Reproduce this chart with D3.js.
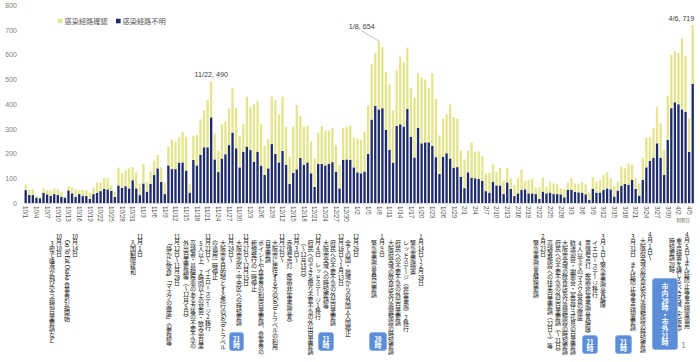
<!DOCTYPE html>
<html><head><meta charset="utf-8">
<script src="https://cdn.jsdelivr.net/npm/d3@7"></script>
<style>
body{margin:0;background:#fff;}
#wrap{position:relative;width:700px;height:362px;overflow:hidden;font-family:"Noto Sans CJK JP","Noto Sans",sans-serif;}
svg{position:absolute;left:0;top:0;}
.col{position:absolute;writing-mode:vertical-rl;font-size:6px;letter-spacing:-0.3px;line-height:7px;width:7px;white-space:nowrap;color:#1a1a1a;}
.tcy{text-combine-upright:all;}
.btn{position:absolute;background:#5b8ed6;border:1px solid #8fb3e6;border-radius:3px;color:#fff;font-weight:bold;writing-mode:vertical-rl;text-align:center;font-size:7px;box-sizing:border-box;white-space:nowrap;overflow:hidden;}
</style></head>
<body>
<div id="wrap"></div>
<script>
// ---- data ----
const yTicks = [0,100,200,300,400,500,600,700,800];
const seriesNames = ["感染経路確認","感染経路不明"];
// 感染経路不明 (navy)
const unknown = [
52,32,32,22,19,41,35,29,36,32,25,22,51,39,25,36,28,28,17,36,41,48,57,55,49,25,71,61,68,59,92,
59,32,79,46,77,113,140,86,36,152,137,137,163,164,131,42,174,152,195,225,225,346,176,125,180,197,234,
284,221,144,207,228,214,167,207,151,113,140,238,198,164,210,154,77,122,136,182,155,164,120,65,158,158,152,158,165,127,59,174,176,174,144,124,120,127,198,337,392,378,383,
295,215,163,311,318,309,380,268,184,304,241,245,245,231,185,117,186,201,180,143,145,106,60,124,102,
100,97,90,48,42,86,71,71,36,83,57,28,39,53,55,39,39,36,16,46,39,42,36,36,35,23,53,53,45,43,42,
35,12,57,42,42,53,59,55,26,50,70,77,73,93,57,30,93,144,170,183,241,183,113,255,383,407,399,378,369,207,481
];
// 感染経路確認 (yellow)
const confirmed = [
23,23,23,8,6,18,17,21,23,23,20,4,17,24,30,16,24,24,24,27,42,35,44,44,23,20,72,60,64,80,53,
64,45,79,40,50,58,54,58,46,76,120,111,102,124,137,35,97,123,143,148,191,144,105,86,139,132,148,
179,162,127,112,202,173,232,206,168,117,117,192,218,194,220,154,110,186,260,170,153,148,128,115,126,153,140,134,137,107,95,129,132,138,120,137,135,161,194,223,215,276,247,
236,264,211,225,274,260,248,195,240,220,265,254,221,293,235,156,156,158,218,204,195,106,116,88,143,
107,111,100,72,80,71,56,71,54,60,43,45,61,81,35,54,57,27,47,57,27,44,43,39,24,34,30,47,35,34,42,
40,31,47,44,51,60,64,45,43,36,77,63,85,61,43,49,90,120,95,119,146,139,101,177,216,207,208,287,225,135,238
];
const dates = d3.timeDay.range(new Date(2020,9,1), new Date(2021,3,7)).map(d => `${d.getMonth()+1}/${d.getDate()}`);
const peakLabels = [{date:"11/22"},{date:"1/8"},{date:"4/6"}];

// annotation columns (vertical Japanese text)
const notes = [
[75,233,"10月14日"],[67,240,"Go To Eat Osaka 食事券引換開始"],[59,233,"10月10日"],[52,240,"3密で唾液が飛び交う環境自粛要請など"],
[140,233,"11月1日"],[133,240,"入国制限緩和"],
[177,233,"11月12日～11月28日"],[169,240,"「静かに飲食」「マスクの徹底」の要請等"],
[208,233,"11月21日～　イエローステージ2移行"],[201,240,"5人以上、2時間以上の宴会・飲み会自粛"],[193,240,"高齢者・基礎疾患のある方等の不要不急の"],[186,240,"外出自粛要請等（～12月5日）"],
[231,233,"11月24日～"],[223,240,"大阪市を目的地とする旅行のGoToトラベル"],[215,240,"の適用一時停止"],
[246,233,"11月27日～12月15日"],[239,240,"大阪市北区・中央区への時短要請"],
[282,233,"11月27日～"],[275,240,"大阪市に居住する方のGoToトラベルの利用"],[268,240,"自粛要請"],[261,240,"ポイントや食事券の利用自粛要請、食事券の"],[254,240,"新規発行の一時停止"],
[296.5,233,"12月3日～"],[289.5,240,"赤信号点灯（医療非常事態宣言）"],
[318,233,"12月4日　レッドステージ1移行"],[310.5,240,"府民へのできる限り不要不急の外出自粛要請"],[303.5,240,"（～12月15日）"],
[341,233,"12月16日～1月13日"],[333,240,"府民への不要不急の外出自粛要請"],[326,240,"大阪市全域への時短要請等"],
[356,233,"12月26日"],[348,240,"全ての国・地域からの外国人入国停止"],
[382,233,"1月9日"],[374,240,"緊急事態宣言発出要請"],
[421,233,"1月14日～2月28日"],[413,240,"緊急事態措置"],[406,240,"レッドステージ（非常事態）2移行"],[398,240,"府民への不要不急の外出自粛要請"],[391,240,"大阪府全域の飲食店及び遊興施設の時短要請"],
[543,233,"2月23日"],[536,240,"緊急事態宣言解除要請"],
[603,233,"3月1日～緊急事態宣言解除"],[595,240,"イエローステージ移行"],[588,240,"黄信号点灯（医療非常事態宣言解除）"],[580,240,"4人以下でのマスク会食の徹底"],[573,240,"歓送迎会・謝恩会・宴会伴う花見の自粛要請"],[565,240,"大阪市全域の飲食店及び遊興施設の時短要請"],[558,240,"府民への不要不急の外出自粛要請（～21日）"],[550,240,"高齢者施設への往来自粛要請（22日～）等"],
[633,233,"3月31日　まん延防止等重点措置要請"],
[650,231,"4月1日～"],[643,238,"大阪府全域の飲食店及び遊興施設の時短要請"],
[687,231,"4月5日～まん延防止等重点措置適用"],[679,238,"重点措置を講じるべき区域（大阪市）"],[672,238,"時短要請20時"]
];
const buttons = [
[236,332,15,19,"21時"],[326,332,16,19,"21時"],[378,332,18,19,"20時"],
[590,335,16,19,"21時"],[623,335,17,19,"21時"],[665,278,26,72,"市内20時・市外21時"]
];

// ---- chart ----
const W=700,H=362;
const wrap = d3.select("#wrap");
const svg = wrap.append("svg").attr("width",W).attr("height",H);
const rows = dates.map((d,i)=>({date:d, unknown:unknown[i], confirmed:confirmed[i]}));
const x = d3.scaleBand().domain(dates).range([23.9,694.5]).paddingInner(0.35).paddingOuter(0.175);
const y = d3.scaleLinear().domain([0,800]).range([203,5]);
const colors = {unknown:"#1f2c6c", confirmed:"#e5e58e"};
const stack = d3.stack().keys(["unknown","confirmed"])(rows);

svg.append("g").selectAll("g").data(stack).join("g")
  .attr("fill", s => colors[s.key])
  .selectAll("rect").data(s => s).join("rect")
  .attr("x", d => x(d.data.date)).attr("width", x.bandwidth())
  .attr("y", d => y(d[1])).attr("height", d => y(d[0]) - y(d[1]));

// y axis
const ya = svg.append("g").attr("transform","translate(18,0)")
  .call(d3.axisLeft(y).tickValues(yTicks).tickSize(0).tickPadding(1));
ya.select(".domain").remove();
ya.selectAll("text").attr("fill","#808080").style("font-size","7px").style("font-family","'Liberation Sans',Arial,sans-serif");

// x axis
const xa = svg.append("g").attr("transform","translate(0,203)")
  .call(d3.axisBottom(x).tickValues(dates.filter((d,i)=>i%3===0)).tickSize(0));
xa.select(".domain").attr("stroke","#d9d9d9");
xa.selectAll("text").attr("transform","rotate(90)").attr("x",3).attr("y",0).attr("dy","0.35em")
  .style("text-anchor","start").attr("fill","#595959").style("font-size","6.3px").style("font-family","'Liberation Sans',Arial,sans-serif");
svg.append("text").attr("x",683).attr("y",222).attr("text-anchor","middle").attr("fill","#595959")
  .style("font-size","4.5px").text("判明日");

// legend
const lg = svg.append("g").style("font-size","7.2px").attr("fill","#595959");
[["confirmed",58],["unknown",116]].forEach(([k,lx],i)=>{
  lg.append("rect").attr("x",lx).attr("y",18.7).attr("width",4.6).attr("height",4.6).attr("fill",colors[k]);
  lg.append("text").attr("x",lx+6.5).attr("y",23.8).text(seriesNames[i]);
});

// peak labels
const total = d => { const i = dates.indexOf(d); return unknown[i]+confirmed[i]; };
const pl = svg.append("g").style("font-size","7.2px").style("font-family","'Liberation Sans',Arial,sans-serif").attr("fill","#404040");
const p1 = peakLabels[0].date, p2 = peakLabels[1].date, p3 = peakLabels[2].date;
pl.append("text").attr("x", x(p1)+x.bandwidth()/2).attr("y", y(total(p1))-5).attr("text-anchor","middle").text(`${p1}, ${total(p1)}`);
pl.append("text").attr("x", x(p2)-16).attr("y", 28.5).attr("text-anchor","middle").text(`${p2}, ${total(p2)}`);
svg.append("line").attr("x1",x(p2)-16).attr("y1",31).attr("x2",x(p2)+x.bandwidth()/2).attr("y2",y(total(p2))).attr("stroke","#a6a6a6").attr("stroke-width",0.7);
pl.append("text").attr("x", x(p3)+x.bandwidth()+0.5).attr("y", y(total(p3))-4).attr("text-anchor","end").text(`${p3}, ${total(p3)}`);

// annotation columns
const fmt = t => t.replace(/\d+/g, m => m.length<=2 ? `<span class="tcy">${m}</span>` : m);
wrap.selectAll("div.col").data(notes).join("div").attr("class","col")
  .style("left", d => (d[0]-3.5)+"px").style("top", d => d[1]+"px")
  .html(d => fmt(d[2]));
wrap.selectAll("div.btn").data(buttons).join("div").attr("class","btn")
  .style("left", d => (d[0]-d[2]/2)+"px").style("top", d => d[1]+"px")
  .style("width", d => d[2]+"px").style("height", d => d[3]+"px")
  .style("line-height", d => (d[2]-2)+"px")
  .html(d => fmt(d[4]));
svg.append("text").attr("x",683.5).attr("y",348).attr("text-anchor","middle").attr("fill","#808080").style("font-size","8px").text("1");
svg.raise();
</script>
</body></html>
